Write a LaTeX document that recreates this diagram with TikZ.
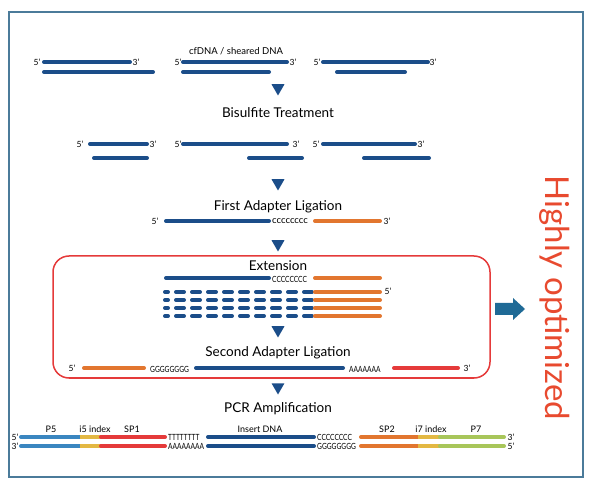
\documentclass[tikz,border=0pt]{standalone}
\usepackage{fontspec}
\setmainfont{Lato}
\newfontfamily\seqfont[FakeStretch=0.78]{Lato}
\usetikzlibrary{shapes.geometric}
\definecolor{dnablue}{HTML}{1B4D89}
\definecolor{adorange}{HTML}{E2762F}
\definecolor{adred}{HTML}{E53A3A}
\definecolor{idxyellow}{HTML}{E3B843}
\definecolor{p7green}{HTML}{A8C65A}
\definecolor{p5blue}{HTML}{3A86C0}
\definecolor{framecol}{HTML}{4B7B9A}
\definecolor{optred}{HTML}{E84A2F}
\definecolor{arrowblue}{HTML}{1F6A96}
\begin{document}
\begin{tikzpicture}[x=1pt,y=-1pt,
    strand/.style={line width=4pt,line cap=round,dnablue},
    endlab/.style={font=\fontsize{8.5}{9}\selectfont,inner sep=1pt},
    seqlab/.style={font=\seqfont\fontsize{8.5}{9}\selectfont,inner sep=1pt},
    partlab/.style={font=\fontsize{9}{10}\selectfont,inner sep=1pt},
    steplab/.style={font=\fontsize{13.5}{15}\selectfont,inner sep=1pt},
    tri/.style={regular polygon,regular polygon sides=3,shape border rotate=180,fill=dnablue,inner sep=0pt,minimum size=15pt}]
    \useasboundingbox (0,0) rectangle (595,489);
    \draw[framecol,line width=1.2pt] (9,12) rectangle (583,477);
    % cfDNA
    \node[endlab] (r1a5) at (37,62) {5’};
    \node[endlab] (r1a3) at (136,62) {3’};
    \draw[strand] (44,62) -- (130,62);
    \draw[strand] (44,72) -- (153,72);
    \node[endlab] (r1b5) at (178,62) {5’};
    \node[endlab] (r1b3) at (293,62) {3’};
    \draw[strand] (183,62) -- (287,62);
    \draw[strand] (183,72) -- (269,72);
    \node[font=\fontsize{9.5}{10}\selectfont] (cfdna) at (236,51) {cfDNA / sheared DNA};
    \node[endlab] (r1c5) at (317,62) {5’};
    \node[endlab] (r1c3) at (433,62) {3’};
    \draw[strand] (323,62) -- (428,62);
    \draw[strand] (337,72) -- (405,72);
    \node[tri] (t1) at (278,88) {};
    \node[steplab] (bis) at (278,113) {Bisulfite Treatment};
    % after bisulfite
    \node[endlab] (r2a5) at (80,144) {5’};
    \node[endlab] (r2a3) at (153,144) {3’};
    \draw[strand] (90,144) -- (147,144);
    \draw[strand] (94,158) -- (147,158);
    \node[endlab] (r2b5) at (178,144) {5’};
    \node[endlab] (r2b3) at (296,144) {3’};
    \draw[strand] (183,144) -- (287,144);
    \draw[strand] (249,158) -- (302,158);
    \node[endlab] (r2c5) at (316,144) {5’};
    \node[endlab] (r2c3) at (421,144) {3’};
    \draw[strand] (323,144) -- (415,144);
    \draw[strand] (364,158) -- (429,158);
    \node[tri] (t2) at (278,183) {};
    \node[steplab] (fal) at (278,207) {First Adapter Ligation};
    \node[endlab] (r3a5) at (155,221) {5’};
    \draw[strand] (166,221) -- (269,221);
    \node[font=\fontsize{9.5}{10}\selectfont,inner sep=1pt,anchor=west] (r3c) at (271,221) {cccccccc};
    \draw[strand,adorange] (315,221) -- (380,221);
    \node[endlab] (r3a3) at (387,221) {3’};
    \node[tri] (t3) at (278,244) {};
    % optimized box
    \draw[adred,line width=1.5pt,rounded corners=16pt] (53,256) rectangle (490,378);
    \node[steplab] (ext) at (278,266) {Extension};
    \draw[strand] (166,278) -- (269,278);
    \node[seqlab,anchor=west] (r4c) at (271,279) {CCCCCCCC};
    \draw[strand,adorange] (315,278) -- (380,278);
    \foreach \y in {292,300,308,316} {
        \draw[strand,dash pattern=on 8pt off 8pt,dash phase=5pt] (165,\y) -- (313,\y);
        \draw[strand,adorange] (315,\y) -- (380,\y);
    }
    \node[endlab] (r4a5) at (388,291) {5’};
    \node[tri] (t4) at (278,330) {};
    \node[steplab] (sal) at (278,353) {Second Adapter Ligation};
    \node[endlab] (r5a5) at (72,368) {5’};
    \draw[strand,adorange] (84,368) -- (144,368);
    \node[seqlab,anchor=west] (r5g) at (149,369) {GGGGGGGG};
    \draw[strand] (196,368) -- (343,368);
    \node[seqlab,anchor=west] (r5a) at (348,369) {AAAAAAA};
    \draw[strand,adred] (394,368) -- (458,368);
    \node[endlab] (r5a3) at (467,368) {3’};
    \node[tri] (t5) at (278,387) {};
    \node[steplab] (pcr) at (278,409) {PCR Amplification};
    % final library
    \foreach \y/\l/\r/\m/\n in {437/5’/3’/TTTTTTTT/CCCCCCCC,446/3’/5’/AAAAAAAA/GGGGGGGG} {
        \node[endlab] at (15,\y) {\l};
        \draw[line width=4pt,p5blue,line cap=round] (21,\y) -- (80,\y);
        \draw[line width=4pt,idxyellow] (80,\y) -- (101,\y);
        \draw[line width=4pt,adred,line cap=round] (101,\y) -- (165,\y);
        \node[seqlab,anchor=west] at (167,\y) {\m};
        \draw[strand] (208,\y) -- (314,\y);
        \node[seqlab,anchor=west] at (316,\y) {\n};
        \draw[line width=4pt,adorange,line cap=round] (361,\y) -- (418,\y);
        \draw[line width=4pt,idxyellow] (418,\y) -- (440,\y);
        \draw[line width=4pt,p7green,line cap=round] (440,\y) -- (504,\y);
        \node[endlab] at (511,\y) {\r};
    }
    \node[partlab] (p5) at (51,429) {P5};
    \node[partlab] (i5) at (95,429) {i5 index};
    \node[partlab] (sp1) at (132,429) {SP1};
    \node[partlab] (ins) at (260,429) {Insert DNA};
    \node[partlab] (sp2) at (387,429) {SP2};
    \node[partlab] (i7) at (431,429) {i7 index};
    \node[partlab] (p7) at (476,429) {P7};
    % side note
    \fill[arrowblue] (495,303) -- (513,303) -- (513,298) -- (525,309) -- (513,320) -- (513,315) -- (495,315) -- cycle;
    \node[rotate=-90,text=optred,font=\fontsize{33}{36}\selectfont] (opt) at (555,298) {Highly optimized};
\end{tikzpicture}
\end{document}
